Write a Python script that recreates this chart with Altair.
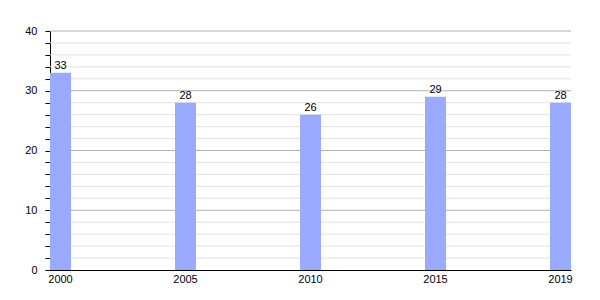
import altair as alt
import pandas as pd

years = ["2000", "2005", "2010", "2015", "2019"]
values = [33, 28, 26, 29, 28]
major_grid = [10, 20, 30, 40]
minor_grid = [v for v in range(2, 40, 2) if v % 10 != 0]
y_ticks = list(range(0, 41, 2))

df = pd.DataFrame({"year": years, "value": values})
minor_df = pd.DataFrame({"g": minor_grid})
major_df = pd.DataFrame({"g": major_grid})

FONT = "Liberation Sans"

yscale = alt.Scale(domain=[0, 40], nice=False)
xscale = alt.Scale(domain=years, paddingInner=0.832, paddingOuter=0)

yaxis = alt.Axis(title=None, values=y_ticks, grid=False, tickSize=5,
                 tickColor="#000000", domainColor="#000000",
                 labelExpr="datum.value % 10 == 0 ? datum.label : ''",
                 labelFont=FONT, labelFontSize=11, labelColor="#000000",
                 labelPadding=8)
xaxis = alt.Axis(title=None, labelAngle=0, ticks=False, domainColor="#000000",
                 labelFont=FONT, labelFontSize=11, labelColor="#000000",
                 labelPadding=3)

minor = alt.Chart(minor_df).mark_rule(color="#e2e2e2", strokeWidth=1).encode(
    y=alt.Y("g:Q", scale=yscale, axis=yaxis)
)
major = alt.Chart(major_df).mark_rule(color="#b0b0b0", strokeWidth=1).encode(
    y=alt.Y("g:Q", scale=yscale, axis=yaxis)
)

bars = alt.Chart(df).mark_bar(color="#99aaff").encode(
    x=alt.X("year:N", scale=xscale, sort=years, axis=xaxis),
    y=alt.Y("value:Q", scale=yscale, axis=yaxis),
)

text = alt.Chart(df).mark_text(baseline="bottom", dy=-2, font=FONT, fontSize=11,
                               color="#000000").encode(
    x=alt.X("year:N", scale=xscale, sort=years, axis=xaxis),
    y=alt.Y("value:Q", scale=yscale, axis=yaxis),
    text="value:Q",
)

chart = alt.layer(minor, major, bars, text).properties(
    width=521, height=239,
    autosize=alt.AutoSizeParams(type="none"),
    padding={"left": 50, "top": 31, "right": 29, "bottom": 30},
    background="white",
).configure_view(stroke=None)

chart.save("out.html", embed_options={"renderer": "svg", "actions": False})
